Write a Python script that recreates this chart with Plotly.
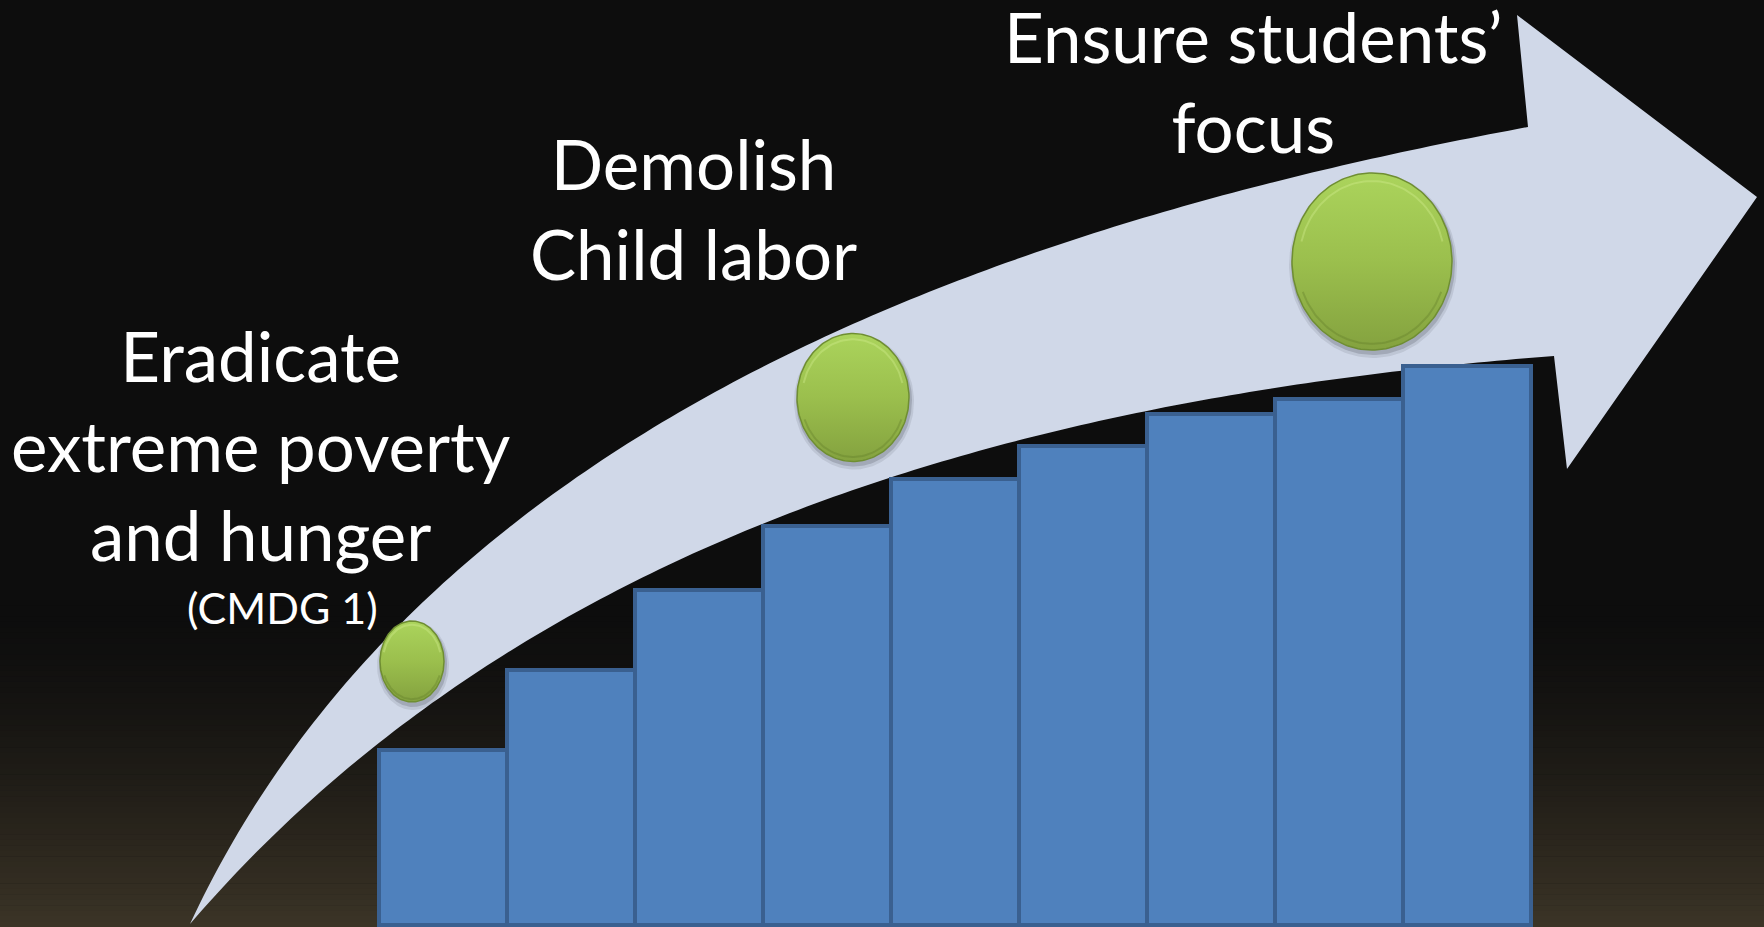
import numpy as np
import plotly.graph_objects as go

W, H = 1764, 927

# ---------------- data ----------------
step_index = [1, 2, 3, 4, 5, 6, 7, 8, 9]
step_heights = [175, 255, 335, 399, 446, 479, 511, 526, 559]

goal_texts = [
    "Eradicate<br>extreme poverty<br>and hunger",
    "Demolish<br>Child labor",
    "Ensure students’<br>focus",
]
goal_note = "(CMDG 1)"

# ---------------- geometry (pixel positions) ----------------
X0_PX, UNIT_PX, BASE_PX = 315.0, 128.0, 925.0


def px_x(px):
    return (np.asarray(px, float) - X0_PX) / UNIT_PX


def px_y(py):
    return BASE_PX - np.asarray(py, float)


arrow_upper = [(190, 924), (247, 810), (313, 727), (380, 644), (447, 577), (513, 527),
               (580, 477), (647, 427), (700, 400), (800, 350), (900, 307), (1000, 267),
               (1100, 230), (1150, 217), (1250, 187), (1350, 160), (1450, 140), (1528, 127)]
arrow_lower = [(190, 924), (280, 844), (347, 777), (413, 717), (480, 667), (547, 627),
               (613, 587), (680, 554), (800, 510), (900, 477), (1000, 450), (1100, 420),
               (1150, 410), (1250, 393), (1350, 377), (1450, 363), (1554, 356)]
arrow_head = [(1528, 127), (1517, 15), (1757, 197), (1567, 469), (1554, 356)]

milestone_cx = [412, 853, 1372]
milestone_cy = [661.5, 397.5, 261.5]
milestone_rx = [32, 56, 80]
milestone_ry = [40.5, 64, 88.5]

text_cx = [261, 693, 1253]
text_baselines = [[382, 472, 560], [191, 279], [64, 152]]
note_cx, note_baseline = 282, 624

FONT = "Lato"
MAIN_SIZE = 69
NOTE_SIZE = 43


def fit_bezier(pts, n=160):
    pts = np.asarray(pts, float)
    p0, p3 = pts[0], pts[-1]
    d = np.r_[0, np.cumsum(np.hypot(*np.diff(pts, axis=0).T))]
    t = d / d[-1]
    dense_t = np.linspace(0, 1, 2000)
    for _ in range(6):
        b0 = (1 - t) ** 3
        b1 = 3 * (1 - t) ** 2 * t
        b2 = 3 * (1 - t) * t ** 2
        b3 = t ** 3
        A = np.c_[b1, b2]
        R = pts - np.outer(b0, p0) - np.outer(b3, p3)
        sol, *_ = np.linalg.lstsq(A, R, rcond=None)
        p1, p2 = sol
        tt = dense_t[:, None]
        dense = (1 - tt) ** 3 * p0 + 3 * (1 - tt) ** 2 * tt * p1 + 3 * (1 - tt) * tt ** 2 * p2 + tt ** 3 * p3
        idx = [np.argmin(np.hypot(*(dense - q).T)) for q in pts]
        t = dense_t[idx]
        t[0], t[-1] = 0.0, 1.0
    tt = np.linspace(0, 1, n)[:, None]
    return (1 - tt) ** 3 * p0 + 3 * (1 - tt) ** 2 * tt * p1 + 3 * (1 - tt) * tt ** 2 * p2 + tt ** 3 * p3


up = fit_bezier(arrow_upper)
lo = fit_bezier(arrow_lower)
outline = np.vstack([up, np.asarray(arrow_head[1:], float), lo[::-1]])
ox, oy = px_x(outline[:, 0]), px_y(outline[:, 1])
arrow_path = "M " + " L ".join(f"{a:.4f},{b:.3f}" for a, b in zip(ox, oy)) + " Z"

shapes = []
# background: dark with a warm brown glow at the bottom
g_start, n_strips = 600, 60
c_top = np.array([13, 13, 13])
c_bot = np.array([60, 53, 39])
edges = np.linspace(g_start, H, n_strips + 1)
for k in range(n_strips):
    f = ((edges[k] + edges[k + 1]) / 2 - g_start) / (H - g_start)
    c = c_top + (c_bot - c_top) * f ** 1.5
    shapes.append(dict(type="rect", xref="paper", yref="paper", x0=0, x1=1,
                       y0=1 - edges[k + 1] / H - 0.0005, y1=1 - edges[k] / H,
                       fillcolor=f"rgb({int(c[0])},{int(c[1])},{int(c[2])})",
                       line=dict(width=0), layer="below"))
shapes.append(dict(type="path", xref="x", yref="y", path=arrow_path,
                   fillcolor="#D0D8E8", line=dict(width=0), layer="below"))

fig = go.Figure()
fig.add_trace(go.Bar(x=step_index, y=step_heights, width=1,
                     marker=dict(color="#4F81BD", line=dict(color="#3A6090", width=4)),
                     hoverinfo="skip", showlegend=False))

theta = np.linspace(0, 2 * np.pi, 181)
for cx, cy, rx, ry in zip(milestone_cx, milestone_cy, milestone_rx, milestone_ry):
    # soft shadow
    for grow, dy, alpha in [(4, 4, 0.10), (2, 3, 0.18)]:
        fig.add_trace(go.Scatter(
            x=px_x(cx + 1 + (rx + grow) * np.cos(theta)),
            y=px_y(cy + dy + (ry + grow) * np.sin(theta)),
            mode="lines", fill="toself", fillcolor=f"rgba(40,40,50,{alpha})",
            line=dict(width=0), hoverinfo="skip", showlegend=False))
    # body with vertical gradient
    fig.add_trace(go.Scatter(
        x=px_x(cx + rx * np.cos(theta)), y=px_y(cy + ry * np.sin(theta)),
        mode="lines", fill="toself",
        fillgradient=dict(type="vertical",
                          colorscale=[[0, "#84A23F"], [0.5, "#9BBF4D"], [1, "#ABD45C"]]),
        line=dict(width=1.5, color="#6F8E32"), hoverinfo="skip", showlegend=False))
    # bevel highlight (upper rim) and darker lower rim
    th = np.linspace(np.pi * 1.08, np.pi * 1.92, 60)
    fig.add_trace(go.Scatter(
        x=px_x(cx + rx * 0.91 * np.cos(th)), y=px_y(cy + ry * 0.91 * np.sin(th)),
        mode="lines", line=dict(width=2, color="rgba(215,240,150,0.35)"),
        hoverinfo="skip", showlegend=False))
    th2 = np.linspace(np.pi * 0.12, np.pi * 0.88, 60)
    fig.add_trace(go.Scatter(
        x=px_x(cx + rx * 0.93 * np.cos(th2)), y=px_y(cy + ry * 0.93 * np.sin(th2)),
        mode="lines", line=dict(width=2, color="rgba(90,115,35,0.3)"),
        hoverinfo="skip", showlegend=False))

annotations = []
for txt, cx, bl in zip(goal_texts, text_cx, text_baselines):
    yc = np.mean(bl) - 0.387 * MAIN_SIZE
    annotations.append(dict(text=txt, x=float(px_x(cx)), y=float(px_y(yc)), xref="x", yref="y",
                            xanchor="center", yanchor="middle", showarrow=False, align="center",
                            font=dict(family=FONT, size=MAIN_SIZE, color="#FFFFFF")))
annotations.append(dict(text=goal_note, x=float(px_x(note_cx)),
                        y=float(px_y(note_baseline - 0.387 * NOTE_SIZE)), xref="x", yref="y",
                        xanchor="center", yanchor="middle", showarrow=False,
                        font=dict(family=FONT, size=NOTE_SIZE, color="#FFFFFF")))

fig.update_layout(
    width=W, height=H, margin=dict(l=0, r=0, t=0, b=0, pad=0),
    paper_bgcolor="#0D0D0D", plot_bgcolor="#0D0D0D",
    xaxis=dict(range=[float(px_x(0)), float(px_x(W))], visible=False, fixedrange=True),
    yaxis=dict(range=[float(px_y(H)), float(px_y(0))], visible=False, fixedrange=True),
    bargap=0, shapes=shapes, annotations=annotations, showlegend=False,
)

fig.write_html(
    "out.html",
    config={"displayModeBar": False},
    post_script="document.body.style.margin='0';document.body.style.padding='0';"
                "document.body.style.overflow='hidden';document.body.style.background='#0D0D0D';",
)
